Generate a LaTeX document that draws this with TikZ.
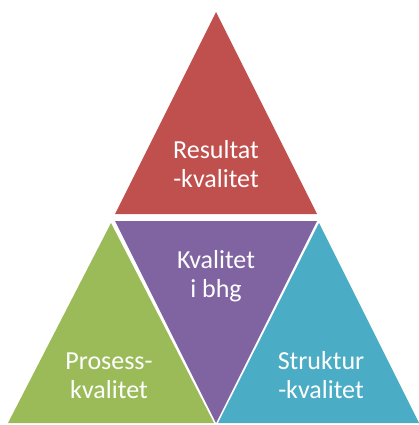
\documentclass[tikz,border=0pt]{standalone}
\usepackage{fontspec}
\setmainfont{Carlito}
\usetikzlibrary{positioning}

\definecolor{resred}{HTML}{C0504D}
\definecolor{kvalpurple}{HTML}{8064A2}
\definecolor{prosgreen}{HTML}{9BBB59}
\definecolor{struktteal}{HTML}{4BACC6}

\begin{document}
\begin{tikzpicture}[
        x=1pt, y=-1pt,
        every node/.style={font=\fontsize{26}{29}\selectfont, text=white, align=center, inner sep=0pt},
        facet/.style={draw=none}
    ]
        \useasboundingbox (0,0) rectangle (419,425);

        % Top: result
        \fill[facet, resred] (216,12) -- (317,214) -- (115,214) -- cycle;
        % Middle: inverted triangle
        \fill[facet, kvalpurple] (115,221) -- (317,221) -- (216,423) -- cycle;
        % Bottom left: process
        \fill[facet, prosgreen] (111,223) -- (214,423) -- (8,423) -- cycle;
        % Bottom right: structure
        \fill[facet, struktteal] (319,223) -- (419,423) -- (218,423) -- cycle;

        % Labels
        \node (resultat) at (216,164) {Resultat\\-kvalitet};
        \node (kvalitet) at (216,276) {Kvalitet\\i bhg};
        \node (prosess) at (109,376) {Prosess-\\kvalitet};
        \node (struktur) at (321,375) {Struktur\\-kvalitet};

    \end{tikzpicture}
\end{document}
